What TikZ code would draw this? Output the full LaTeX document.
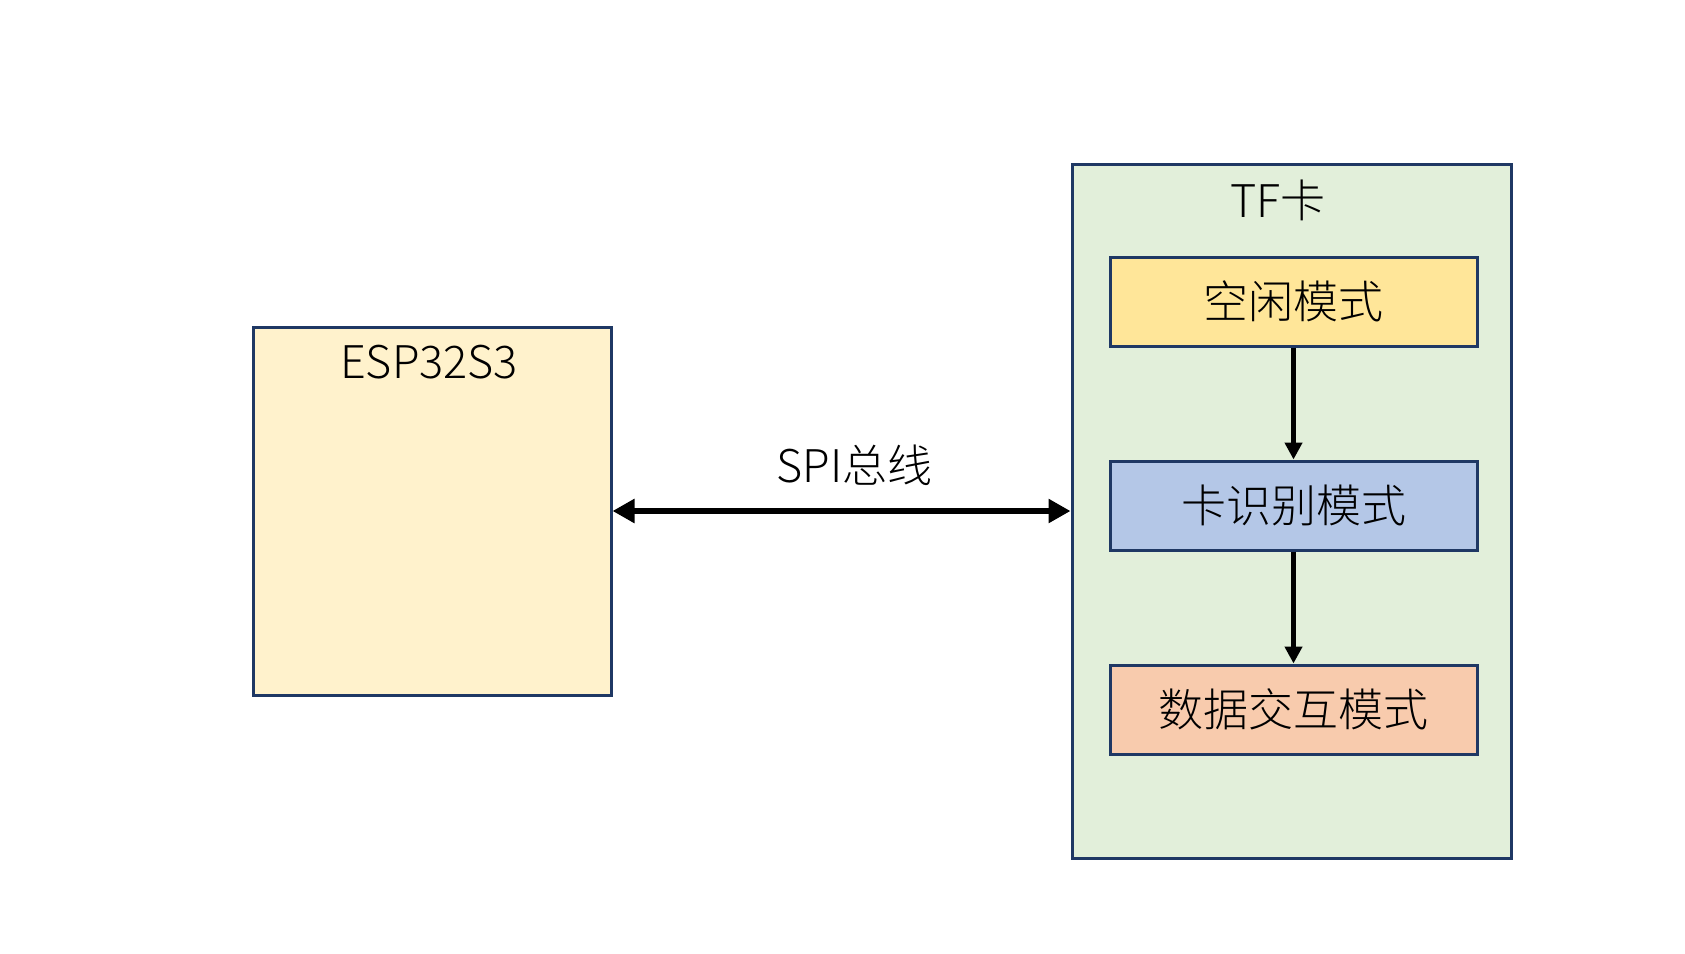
\documentclass[tikz,border=0pt]{standalone}
\usepackage{fontspec}
\setmainfont{Noto Sans CJK SC}[UprightFont={* Light}]
\usepackage{tikz}
\usetikzlibrary{arrows.meta,positioning}
\definecolor{navy}{HTML}{1F3864}
\definecolor{espfill}{HTML}{FFF2CC}
\definecolor{tffill}{HTML}{E2EFDA}
\definecolor{idlefill}{HTML}{FFE699}
\definecolor{identfill}{HTML}{B4C7E7}
\definecolor{datafill}{HTML}{F8CBAD}

\begin{document}
\begin{tikzpicture}[x=1pt, y=-1pt, >={Triangle[length=11pt,width=11.5pt]},
  every node/.style={font=\fontsize{22.5}{27}\selectfont},
  block/.style={draw=navy, line width=1.5pt, inner sep=0pt},
  mode/.style={block, minimum width=183.5pt, minimum height=44.5pt}]
\useasboundingbox (0,0) rectangle (842.5,476.5);
\node[block, fill=espfill, minimum width=179pt, minimum height=184pt] (esp) at (216,255.5) {};
\node[block, fill=tffill, minimum width=219.5pt, minimum height=347pt] (tf) at (645.75,255.5) {};
\node (esplbl) at (214.5,181) {ESP32S3};
\node (tflbl) at (639,100) {TF卡};

\node[mode, fill=idlefill] (idle) at (646.75,150.75) {空闲模式};
\node[mode, fill=identfill, below=56pt of idle] (ident) {卡识别模式};
\node[mode, fill=datafill, below=56pt of ident] (data) {数据交互模式};

\draw[<->, line width=3pt] (esp.east) -- node[above=8pt, xshift=6.5pt]{SPI总线} (tf.west);
\draw[->, line width=2.5pt, >={Triangle[length=8.5pt,width=8.5pt]}] (idle) -- (ident);
\draw[->, line width=2.5pt, >={Triangle[length=8.5pt,width=8.5pt]}] (ident) -- (data);
\end{tikzpicture}
\end{document}
